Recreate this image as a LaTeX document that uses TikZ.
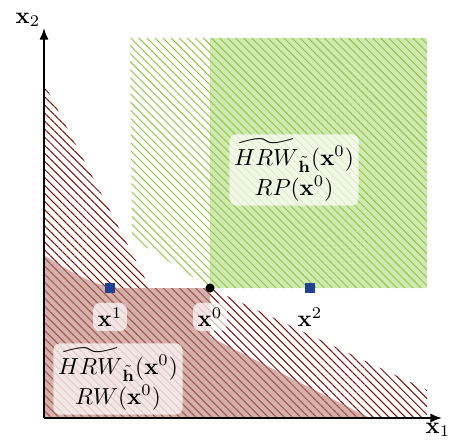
\documentclass[tikz,border=0pt]{standalone}
\usepackage{amsmath,amssymb}
\usetikzlibrary{patterns.meta,arrows.meta}
\definecolor{rwred}{RGB}{117,20,8}
\definecolor{rwfill}{RGB}{185,125,118}
\definecolor{rpgreen}{RGB}{140,198,63}
\definecolor{ptblue}{RGB}{35,65,145}
\tikzset{
  hatchred/.style={pattern={Lines[angle=-45,distance=2.45pt,line width=0.45pt]}, pattern color=rwred},
  hatchgreen/.style={pattern={Lines[angle=-45,distance=2.45pt,line width=0.4pt]}, pattern color=rpgreen},
  lab/.style={fill=white, fill opacity=0.7, text opacity=1, rounded corners=3pt, inner sep=2pt, align=center},
  sqpt/.style={fill=ptblue, minimum size=4pt, inner sep=0pt},
  dotpt/.style={circle, fill=black, minimum size=3.9pt, inner sep=0pt},
  axisline/.style={line width=0.9pt, -{Latex[length=5pt,width=4pt]}}
}
\begin{document}
\begin{tikzpicture}[x=0.43pt,y=-0.43pt]
\useasboundingbox (0,0) rectangle (451,439);
% green: HRW hatch and RP solid
\fill[hatchgreen] (130,38) -- (427,38) -- (427,288) -- (210,288) -- (132,238) -- cycle;
\fill[rpgreen, opacity=0.4] (210,38) rectangle (427,288);
% red: HRW hatch and RW solid
\fill[hatchred] (44,83) -- (150,288) -- (210,288) -- (427,390) -- (427,418) -- (44,418) -- cycle;
\fill[rwfill, opacity=0.6] (44,255) .. controls (80,278) and (100,288) .. (125,288) -- (210,288) -- (210,337) -- (370,418) -- (44,418) -- cycle;
% axes
\coordinate (O) at (44,418);
\coordinate (xe) at (442,418);
\coordinate (ye) at (44,28);
\draw[axisline] (O) -- (xe);
\draw[axisline] (O) -- (ye);
\node (lx2) at (28,20) {$\mathbf{x}_2$};
\node (lx1) at (438,430) {$\mathbf{x}_1$};
% region labels
\node[lab] (hrwrp) at (294,170) {$\widetilde{HRW}_{\tilde{\mathbf{h}}}(\mathbf{x}^0)$\\[1pt]$RP(\mathbf{x}^0)$};
\node[lab] (hrwrw) at (118,379) {$\widetilde{HRW}_{\tilde{\mathbf{h}}}(\mathbf{x}^0)$\\[1pt]$RW(\mathbf{x}^0)$};
% points
\node[sqpt] (x1) at (110,288) {};
\node[sqpt] (x2) at (310,288) {};
\node[dotpt] (x0) at (210,288) {};
\node[lab] (lx1p) at (110,317) {$\mathbf{x}^1$};
\node[lab] (lx0p) at (210,317) {$\mathbf{x}^0$};
\node[lab] (lx2p) at (310,317) {$\mathbf{x}^2$};
\end{tikzpicture}
\end{document}
